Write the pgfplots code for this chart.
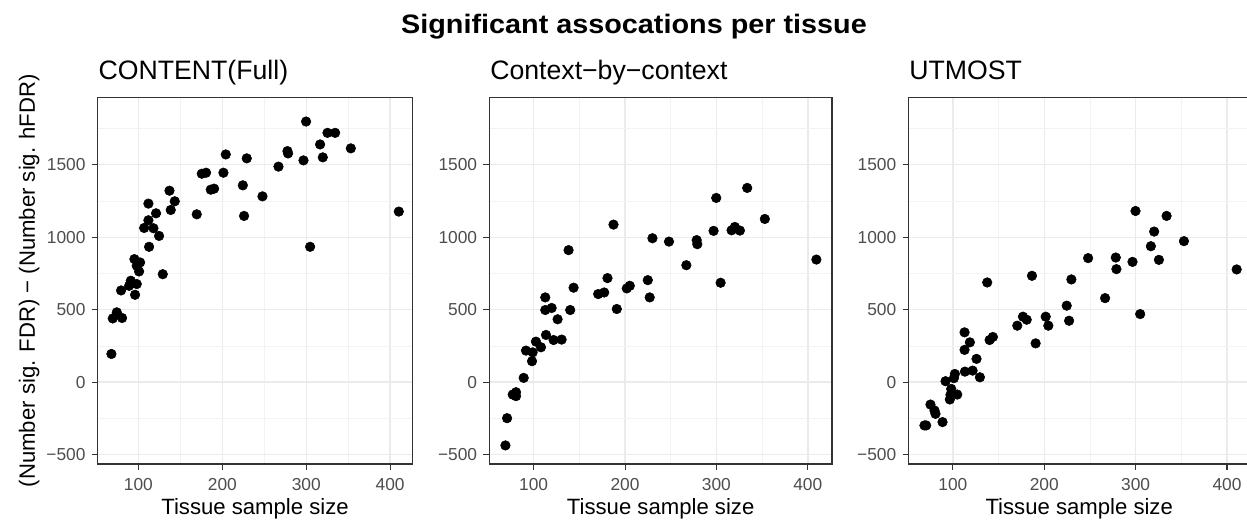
\documentclass[border=0pt]{standalone}
\usepackage{fontspec}
\setmainfont{Liberation Sans}
\newfontfamily\titlefont[FakeStretch=1.08]{Liberation Sans}
\usepackage{pgfplots}
\pgfplotsset{compat=1.18}
\definecolor{tickgrey}{HTML}{4D4D4D}
\definecolor{bordercol}{HTML}{333333}
\definecolor{gridmaj}{HTML}{EBEBEB}
\definecolor{gridmin}{HTML}{F3F3F3}
\pgfplotsset{
  panel/.style={
    scale only axis, height=275pt,
    xmin=51.5, xmax=426.5, ymin=-564, ymax=1965,
    xtick={100,200,300,400}, xticklabels={100,200,300,400},
    ytick={-500,0,500,1000,1500}, yticklabels={−500,0,500,1000,1500},
    minor xtick={150,250,350}, minor ytick={-250,250,750,1250,1750},
    grid=both,
    major grid style={gridmaj, line width=1.1pt},
    minor grid style={gridmin, line width=0.6pt},
    tick align=outside, tick pos=left,
    major tick length=4.5pt, minor tick length=0pt,
    tick style={bordercol, line width=0.8pt},
    axis line style={bordercol, line width=0.8pt},
    tick label style={font=\fontsize{13}{15}\selectfont, text=tickgrey, inner sep=0pt},
    xticklabel style={yshift=-6pt},
    yticklabel style={xshift=-4.5pt},
  },
  pts/.style={only marks, mark=*, mark size=3.6pt, black, mark options={draw=black, fill=black}}
}
\begin{document}
\begin{tikzpicture}
\useasboundingbox (0,0) rectangle (935.25pt,390pt);
\clip (0,0) rectangle (935.25pt,390pt);
% titles
\node[anchor=base, inner sep=0pt] at (475.5pt,365pt) {\titlefont\bfseries\fontsize{20}{24}\selectfont Significant assocations per tissue};
\node[anchor=base west, inner sep=0pt] at (73.7pt,330pt) {\fontsize{20}{24}\selectfont CONTENT(Full)};
\node[anchor=base west, inner sep=0pt] at (367.5pt,330pt) {\fontsize{20}{24}\selectfont Context−by−context};
\node[anchor=base west, inner sep=0pt] at (681.8pt,330pt) {\fontsize{20}{24}\selectfont UTMOST};
\node[anchor=base, inner sep=0pt, rotate=90] at (26.25pt,179.5pt) {\fontsize{16.6}{20}\selectfont (Number sig. FDR) − (Number sig. hFDR)};
\node[anchor=base, inner sep=0pt] at (191.3pt,3.75pt) {\fontsize{16.6}{20}\selectfont Tissue sample size};
\node[anchor=base, inner sep=0pt] at (495.5pt,3.75pt) {\fontsize{16.6}{20}\selectfont Tissue sample size};
\node[anchor=base, inner sep=0pt] at (809.4pt,3.75pt) {\fontsize{16.6}{20}\selectfont Tissue sample size};

\begin{axis}[panel, width=236pt, at={(73.3pt,42pt)}, anchor=south west]
\addplot[pts] coordinates {
(67.8,195) (69.4,440) (74.2,482) (80.5,443) (79.3,633) (88.9,665) (90.9,700)
(98,677) (96,603) (95.2,849) (102,826) (98,803) (100.8,764) (129,745)
(112.7,934) (124.6,1009) (106.8,1064) (111.9,1117) (117.9,1062) (111.9,1232)
(121,1165) (138.5,1188) (137,1321) (143.3,1248) (169.5,1158) (175.5,1438)
(180.6,1445) (186.2,1328) (190.2,1335) (201.3,1445) (204.1,1571) (224.4,1358)
(229.1,1544) (225.9,1147) (247.8,1282) (266.9,1487) (277.6,1594) (278.3,1578)
(296.7,1530) (299.8,1798) (304.6,934) (316.5,1640) (319.7,1551) (325.3,1720)
(334.4,1720) (353.1,1613) (410.3,1177)
};
\end{axis}

\begin{axis}[panel, width=257pt, at={(367pt,42pt)}, anchor=south west]
\addplot[pts] coordinates {
(69.1,-436) (70.9,-248) (77.1,-85) (80.7,-69) (80.7,-96) (89.1,30) (91.6,218)
(98.2,145) (98.9,206) (102.5,280) (108,241) (113.5,326) (121.8,291) (130.6,294)
(126.2,434) (112.7,498) (119.7,512) (112.7,585) (140,498) (143.7,652) (138.2,911)
(170.6,608) (177.2,619) (180.8,718) (191,505) (187.4,1087) (201.9,647) (205.2,665)
(224.9,704) (227,585) (230,993) (248.1,970) (267.1,807) (278.4,980) (279.1,952)
(296.9,1044) (299.8,1271) (304.6,686) (316.6,1048) (320.2,1071) (325.7,1046)
(333.7,1340) (353,1126) (409.4,846)
};
\end{axis}

\begin{axis}[panel, width=257pt, at={(681.4pt,42pt)}, anchor=south west]
\addplot[pts] coordinates {
(68.9,-298) (70.8,-298) (75.5,-154) (79.9,-195) (81,-218) (88.7,-275) (92,7)
(102.2,57) (101.1,28) (98.2,-46) (96.7,-119) (97.4,-87) (104.8,-85) (113.2,73)
(121.6,80) (129.6,34) (125.9,161) (112.8,223) (118.6,275) (112.8,344) (140.2,291)
(143.8,312) (137.6,688) (170.5,390) (176.7,452) (180.8,431) (190.6,268) (186.6,734)
(201.6,452) (204.5,390) (224.6,528) (227.2,424) (229.7,709) (248,856) (266.6,580)
(278.3,860) (279,780) (296.6,830) (299.9,1181) (305,470) (316.7,938) (320.3,1039)
(325.5,844) (333.9,1147) (352.9,973) (410.6,778)
};
\end{axis}
\end{tikzpicture}
\end{document}
